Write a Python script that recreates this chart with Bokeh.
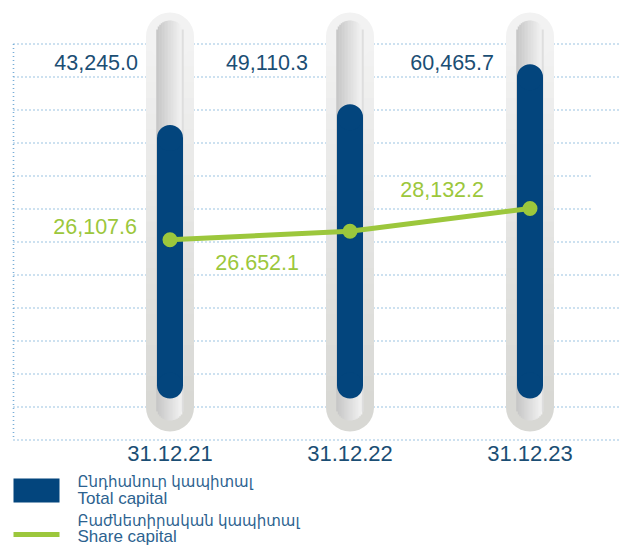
import math
from bokeh.plotting import figure
from bokeh.models import Range1d, ColumnDataSource
from bokeh.core.properties import value
from bokeh.embed import file_html
from bokeh.resources import INLINE

# ---------------- data ----------------
CATEGORIES = ["31.12.21", "31.12.22", "31.12.23"]
TOTAL_CAPITAL = [43245.0, 49110.3, 60465.7]
SHARE_CAPITAL = [26107.6, 26652.1, 28132.2]
TOTAL_LABELS = ["43,245.0", "49,110.3", "60,465.7"]
SHARE_LABELS = ["26,107.6", "26.652.1", "28,132.2"]
LEGEND_ARM = ["Ընդհանուր կապիտալ", "Բաժնետիրական կապիտալ"]
LEGEND_ENG = ["Total capital", "Share capital"]

# ---------------- layout / style ----------------
W, H = 621, 546
STEP = 180.0               # px per category
CX0 = 169.5                # px of first category centre
FONT = "Liberation Sans, Arial, DejaVu Sans, sans-serif"
BLUE = "#03457d"
GREEN = "#9cc73c"
TXT_BLUE = "#1b4e74"
LEG_BLUE = "#2c628f"
DOT = "#7aafd8"

# pixel <-> value scale of each series (pixels from top)
T_REF_PX, T_REF_V, T_PER_PX = 110.33, 50940.3, 283.7
S_REF_PX, S_REF_V, S_PER_PX = 226.0, 26964.0, 64.81
TOTAL_RANGE = (T_REF_V - (H - T_REF_PX) * T_PER_PX, T_REF_V + T_REF_PX * T_PER_PX)
SHARE_RANGE = (S_REF_V - (H - S_REF_PX) * S_PER_PX, S_REF_V + S_REF_PX * S_PER_PX)

def total_at(py):
    t0, t1 = TOTAL_RANGE
    return t0 + (t1 - t0) * (H - py) / H

def px_w(w):
    return w / STEP

def lerp_hex(c1, c2, t):
    a = [int(c1[i:i + 2], 16) for i in (1, 3, 5)]
    b = [int(c2[i:i + 2], 16) for i in (1, 3, 5)]
    return "#" + "".join("%02x" % round(a[k] + (b[k] - a[k]) * t) for k in range(3))

idx = list(range(len(CATEGORIES)))

p = figure(width=W, height=H, output_backend="svg", toolbar_location=None,
           x_range=Range1d(-CX0 / STEP, (W - CX0) / STEP),
           y_range=Range1d(*TOTAL_RANGE),
           x_axis_location=None, y_axis_location=None,
           min_border=0, min_border_left=0, min_border_right=0,
           min_border_top=0, min_border_bottom=0)
p.extra_y_ranges = {"px": Range1d(H, 0), "share": Range1d(*SHARE_RANGE)}
p.extra_x_ranges = {"px": Range1d(0, W)}
p.grid.visible = False
p.outline_line_color = None
p.background_fill_color = "white"
p.border_fill_color = "white"

# ---------------- dotted grid ----------------
gy = [43.5 + 33 * k for k in range(13)]
xs, ys = [], []
for k, y in enumerate(gy):
    x_end = 592 if k in (4, 5) else 625
    xs.append([13, x_end])
    ys.append([y, y])
xs.append([13, 13])
ys.append([43.5, 439.5])
p.multi_line(xs, ys, x_range_name="px", y_range_name="px",
             line_color=DOT, line_width=1.6, line_dash="1 3")

# ---------------- tubes (outer) ----------------
OUT_TOP, OUT_BOT, OUT_W = 12, 431, 48
r_out = OUT_W / 2
c_top, c_bot = OUT_TOP + r_out, OUT_BOT - r_out
NB = 24
top_col, bot_col = "#f2f2f2", "#d8d8d4"
for b in range(NB):
    y0 = c_top + (c_bot - c_top) * b / NB
    y1 = c_top + (c_bot - c_top) * (b + 1) / NB
    col = lerp_hex(top_col, bot_col, b / (NB - 1))
    p.vbar(x=idx, width=px_w(OUT_W), top=y0 - 0.6, bottom=y1 + 0.6,
           y_range_name="px", fill_color=col, line_color=None)
p.scatter(x=idx, y=[c_top] * 3, size=OUT_W, y_range_name="px",
          fill_color=top_col, line_color=None)
p.scatter(x=idx, y=[c_bot] * 3, size=OUT_W, y_range_name="px",
          fill_color=bot_col, line_color=None)

# ---------------- tubes (inner channel, horizontal gradient) ----------------
IN_TOP, IN_BOT, IN_W = 20, 420, 27
r_in = IN_W / 2
ci_top, ci_bot = IN_TOP + r_in, IN_BOT - r_in
NS = 18
sw = IN_W / NS
for s in range(NS):
    dx = -r_in + sw * (s + 0.5)
    h = math.sqrt(max(r_in ** 2 - dx ** 2, 0.0))
    t = s / (NS - 1)
    col = lerp_hex("#c6c6c6", "#f4f4f4", t)
    if s == NS - 1:
        col = "#dedede"
    p.vbar(x=[i + px_w(dx) for i in idx], width=px_w(sw + 0.5),
           top=ci_top - h, bottom=ci_bot + h,
           y_range_name="px", fill_color=col, line_color=None)

# ---------------- total capital bars ----------------
BAR_W = 26
base = total_at(398 - BAR_W / 2)
src = ColumnDataSource(dict(x=idx, top=TOTAL_CAPITAL, base=[base] * 3))
p.vbar(x="x", width=px_w(BAR_W), top="top", bottom="base", source=src,
       fill_color=BLUE, line_color=None)
p.scatter(x="x", y="top", size=BAR_W, source=src, fill_color=BLUE, line_color=None)
p.scatter(x="x", y="base", size=BAR_W, source=src, fill_color=BLUE, line_color=None)

# ---------------- share capital line ----------------
p.line(idx, SHARE_CAPITAL, y_range_name="share", line_color=GREEN, line_width=5)
p.scatter(idx, SHARE_CAPITAL, y_range_name="share", size=15,
          fill_color=GREEN, line_color=None)

# ---------------- labels ----------------
TOTAL_DX = [-32, -42, -36]
for i in idx:
    p.text(x=[i], y=[62], text=[TOTAL_LABELS[i]], y_range_name="px",
           x_offset=TOTAL_DX[i], text_align="right", text_baseline="middle",
           text_font=value(FONT), text_font_size="21.5px", text_color=TXT_BLUE)

SHARE_DX = [-33, -51, -46]
SHARE_DY = [-13, 31, -19]
for i in idx:
    p.text(x=[i], y=[SHARE_CAPITAL[i]], text=[SHARE_LABELS[i]], y_range_name="share",
           x_offset=SHARE_DX[i], y_offset=SHARE_DY[i],
           text_align="right", text_baseline="middle",
           text_font=value(FONT), text_font_size="21.5px", text_color=GREEN)

p.text(x=idx, y=[453] * 3, text=CATEGORIES, y_range_name="px",
       text_align="center", text_baseline="middle",
       text_font=value(FONT), text_font_size="22px", text_color=TXT_BLUE)

# ---------------- legend ----------------
p.quad(left=[13], right=[59], top=[478], bottom=[502],
       x_range_name="px", y_range_name="px", fill_color=BLUE, line_color=None)
p.line([13, 59], [534, 534], x_range_name="px", y_range_name="px",
       line_color=GREEN, line_width=5)
leg_y = [[481, 498], [520, 536]]
for k in range(2):
    p.text(x=[77], y=[leg_y[k][0]], text=[LEGEND_ARM[k]],
           x_range_name="px", y_range_name="px", text_baseline="middle",
           text_font=value(FONT), text_font_size="15px", text_color=LEG_BLUE)
    p.text(x=[77], y=[leg_y[k][1]], text=[LEGEND_ENG[k]],
           x_range_name="px", y_range_name="px", text_baseline="middle",
           text_font=value(FONT), text_font_size="17px", text_color=LEG_BLUE)

open("out.html", "w").write(file_html(p, INLINE))
